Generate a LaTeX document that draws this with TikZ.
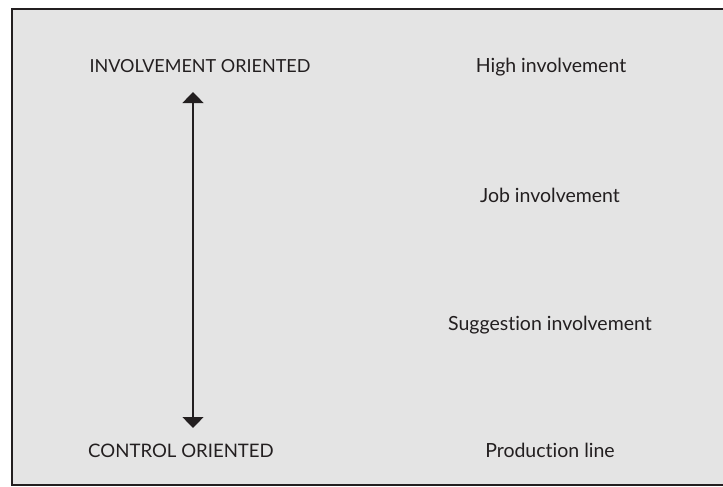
\documentclass[tikz,border=0pt]{standalone}
\usepackage{fontspec}
\setmainfont{Lato}[Ligatures=NoCommon]
\usepackage{tikz}
\usetikzlibrary{arrows.meta,positioning}
\definecolor{panelgray}{HTML}{E4E4E4}
\definecolor{inkgray}{HTML}{231F20}
\tikzset{
  panel/.style={draw=inkgray,fill=panelgray,line width=2pt},
  pole/.style={text=inkgray,font=\fontsize{18}{21}\selectfont,anchor=base,inner sep=0pt},
  level/.style={text=inkgray,font=\fontsize{19.5}{23}\selectfont,anchor=base,inner sep=0pt},
  twoway/.style={draw=inkgray,line width=1.3pt,{Triangle[width=21pt,length=11pt]}-{Triangle[width=21pt,length=11pt]}},
}
\begin{document}
\begin{tikzpicture}[x=1pt,y=-1pt]
\useasboundingbox (0,0) rectangle (723,487);
\draw[panel] (12,9) rectangle (740,485);

% the two poles
\node[pole] (invo) at (200,73) {INVOLVEMENT ORIENTED};
\node[pole,font=\fontsize{18.6}{21}\selectfont] (ctrl) at (181,457) {CONTROL ORIENTED};
\coordinate (upper) at (193,92);
\coordinate (lower) at (193,428);
\draw[twoway] (upper) -- (lower);

% the levels
\node[level] (high) at (551,73) {High involvement};
\node[level] (job)  at (550,202) {Job involvement};
\node[level] (sugg) at (550,330) {Suggestion involvement};
\node[level] (prod) at (550,457) {Production line};

\end{tikzpicture}
\end{document}
